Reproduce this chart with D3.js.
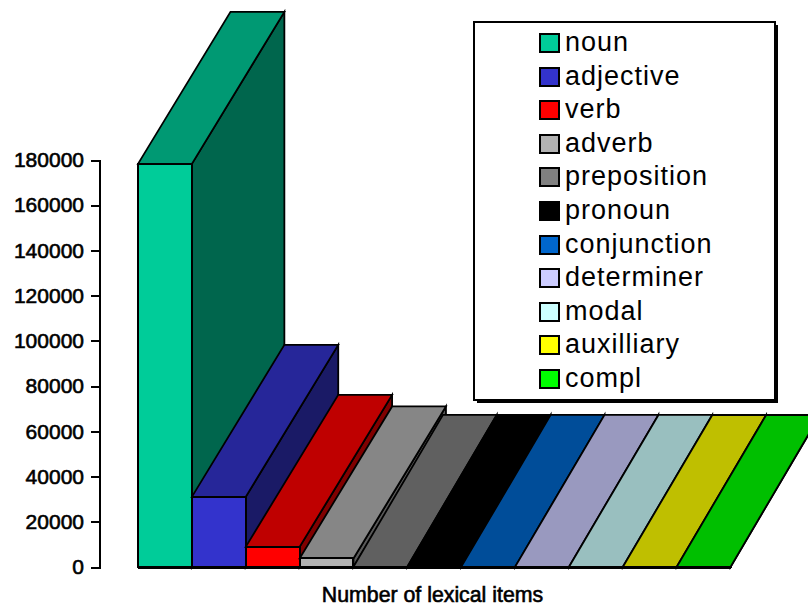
<!DOCTYPE html>
<html>
<head>
<meta charset="utf-8">
<script src="https://cdnjs.cloudflare.com/ajax/libs/d3/7.8.5/d3.min.js"></script>
<style>
  html, body { margin: 0; padding: 0; background: #fff; overflow: hidden; }
  svg { display: block; }
  text { font-family: "Liberation Sans", Arial, sans-serif; fill: #000; }
</style>
</head>
<body>
<svg id="chart" width="808" height="606"></svg>
<script>
const categories = ['noun', 'adjective', 'verb', 'adverb', 'preposition', 'pronoun',
  'conjunction', 'determiner', 'modal', 'auxilliary', 'compl'];
const values = [178300, 31000, 8900, 3800, 80, 60, 50, 40, 20, 10, 10];
const colors = ['#00cc99', '#3333cc', '#ff0000', '#b2b2b2', '#808080', '#000000',
  '#0066cc', '#ccccff', '#ccffff', '#ffff00', '#00ff00'];
const yTicks = [0, 20000, 40000, 60000, 80000, 100000, 120000, 140000, 160000, 180000];
const xTitle = 'Number of lexical items';

const depthY = -152;

const svg = d3.select('#chart');

const x = d3.scaleBand().domain(categories).range([138, 730.5]);
const y = d3.scaleLinear().domain([0, 180000]).range([567, 160]);

// the flat bars lean a little less than the tall ones in the original
function depthX(v) {
  return v > 1000 ? 92.5 : 89.5;
}

function shade(color, k) {
  const c = d3.rgb(color);
  return d3.rgb(c.r * k, c.g * k, c.b * k).formatHex();
}

function poly(points) {
  return d3.line()(points) + 'Z';
}

// bars go left to right so each one covers the hidden part of the previous side face
const bars = svg.append('g')
  .selectAll('g')
  .data(categories)
  .join('g')
  .attr('stroke', '#000')
  .attr('stroke-width', 1.8)
  .attr('stroke-linejoin', 'miter');

bars.append('path')
  .attr('fill', (d, i) => shade(colors[i], 0.5))
  .attr('d', (d, i) => {
    const r = x(d) + x.bandwidth(), dx = depthX(values[i]);
    return poly([[r, y(values[i])], [r + dx, y(values[i]) + depthY],
      [r + dx, y(0) + depthY], [r, y(0)]]);
  });

bars.append('path')
  .attr('fill', (d, i) => shade(colors[i], 0.75))
  .attr('d', (d, i) => {
    const l = x(d), r = l + x.bandwidth(), t = y(values[i]), dx = depthX(values[i]);
    return poly([[l, t], [l + dx, t + depthY], [r + dx, t + depthY], [r, t]]);
  });

bars.append('rect')
  .attr('fill', (d, i) => colors[i])
  .attr('shape-rendering', 'crispEdges')
  .attr('stroke-width', 2)
  .attr('x', d => x(d))
  .attr('width', x.bandwidth())
  .attr('y', (d, i) => y(values[i]))
  .attr('height', (d, i) => y(0) - y(values[i]));

// floor front edge
svg.append('line')
  .attr('x1', x.range()[0]).attr('x2', x.range()[1])
  .attr('y1', y(0) + 1).attr('y2', y(0) + 1)
  .attr('stroke', '#000')
  .attr('stroke-width', 2)
  .attr('shape-rendering', 'crispEdges');

// y axis
const yAxis = svg.append('g')
  .attr('transform', 'translate(99,0)')
  .call(d3.axisLeft(y).tickValues(yTicks).tickFormat(d3.format('d')).tickSize(8).tickSizeOuter(8).tickPadding(7));

yAxis.selectAll('path, line')
  .attr('stroke', '#000')
  .attr('stroke-width', 2)
  .attr('shape-rendering', 'crispEdges');

yAxis.selectAll('text')
  .style('font-size', '21px')
  .attr('stroke', '#000')
  .attr('stroke-width', 0.6);

svg.append('text')
  .attr('x', 432.5)
  .attr('y', 602)
  .attr('text-anchor', 'middle')
  .attr('stroke', '#000')
  .attr('stroke-width', 0.6)
  .style('font-size', '21.3px')
  .text(xTitle);

// legend
const legendY = d3.scalePoint().domain(categories).range([43, 379]);

svg.append('rect')
  .attr('x', 477).attr('y', 25).attr('width', 301).attr('height', 378)
  .attr('fill', '#000')
  .attr('shape-rendering', 'crispEdges');

svg.append('rect')
  .attr('x', 474).attr('y', 22).attr('width', 301).attr('height', 378)
  .attr('fill', '#fff')
  .attr('stroke', '#000')
  .attr('stroke-width', 2)
  .attr('shape-rendering', 'crispEdges');

const legendRows = svg.append('g')
  .selectAll('g')
  .data(categories)
  .join('g')
  .attr('transform', d => 'translate(0,' + legendY(d) + ')');

legendRows.append('rect')
  .attr('x', 540).attr('y', -9).attr('width', 19).attr('height', 18)
  .attr('fill', (d, i) => colors[i])
  .attr('stroke', '#000')
  .attr('stroke-width', 2)
  .attr('shape-rendering', 'crispEdges');

legendRows.append('text')
  .attr('x', 565)
  .attr('y', 8)
  .style('font-size', '27px')
  .style('letter-spacing', '1px')
  .text(d => d);
</script>
</body>
</html>
